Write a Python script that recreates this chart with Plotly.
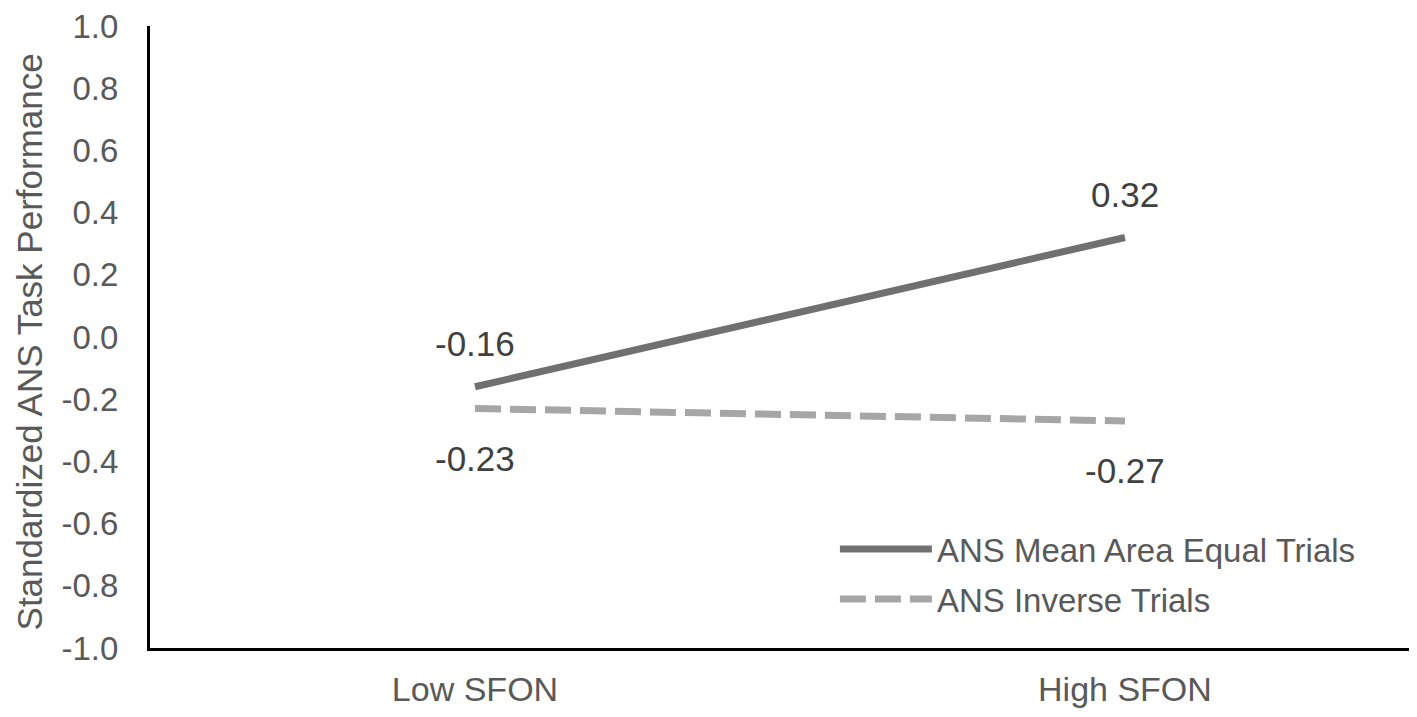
import plotly.graph_objects as go

# categories and series values
categories = ["Low SFON", "High SFON"]
mean_area_equal = [-0.16, 0.32]
inverse = [-0.23, -0.27]
y_ticks = [-1.0, -0.8, -0.6, -0.4, -0.2, 0.0, 0.2, 0.4, 0.6, 0.8, 1.0]
y_tick_text = [f"{v:.1f}" for v in y_ticks]
y_title = "Standardized ANS Task Performance"

font_family = "Liberation Sans, Arial, sans-serif"

fig = go.Figure()

fig.add_trace(go.Scatter(
    x=categories,
    y=mean_area_equal,
    mode="lines",
    name="ANS Mean Area Equal Trials",
    legendgroup="a",
    line=dict(color="#707070", width=7),
))

fig.add_trace(go.Scatter(
    x=categories,
    y=inverse,
    mode="lines",
    name="ANS Inverse Trials",
    legendgroup="b",
    line=dict(color="#a6a6a6", width=7, dash="26px,9px"),
))

# data labels: solid series above its points, dashed series below
for cat, val in zip(categories, mean_area_equal):
    fig.add_annotation(x=cat, y=val, text=f"{val:.2f}", showarrow=False,
                       yshift=43, font=dict(size=35, color="#404040"))
for cat, val in zip(categories, inverse):
    fig.add_annotation(x=cat, y=val, text=f"{val:.2f}", showarrow=False,
                       yshift=-50, font=dict(size=35, color="#404040"))

# y axis title sits further left than plotly's own title would
fig.add_annotation(text=y_title, xref="paper", yref="paper",
                   x=-0.112, y=0.492, xanchor="left", yanchor="middle",
                   textangle=-90, showarrow=False, borderpad=0,
                   font=dict(size=35, color="#595959"))

fig.update_layout(
    width=1401,
    height=701,
    margin=dict(l=142, r=0, t=14, b=61),
    paper_bgcolor="white",
    plot_bgcolor="white",
    font=dict(family=font_family, color="#595959", size=31),
    legend=dict(
        x=0.544, y=0.204, xanchor="left", yanchor="top",
        font=dict(size=33, color="#595959"),
        itemwidth=92,
        bgcolor="rgba(0,0,0,0)",
        tracegroupgap=4,
    ),
    xaxis=dict(
        type="category",
        range=[-0.5, 1.437],
        showline=True, linecolor="black", linewidth=3,
        showgrid=False, zeroline=False, ticks="",
        tickfont=dict(size=34, color="#595959"),
        ticklabelstandoff=9,
    ),
    yaxis=dict(
        range=[-1.0, 1.0],
        tickvals=y_ticks,
        ticktext=y_tick_text,
        ticklabeloverflow="allow",
        showline=True, linecolor="black", linewidth=3,
        showgrid=False, zeroline=False, ticks="",
        tickfont=dict(size=33, color="#595959"),
        ticklabelstandoff=22,
    ),
)

fig.write_html("out.html")
